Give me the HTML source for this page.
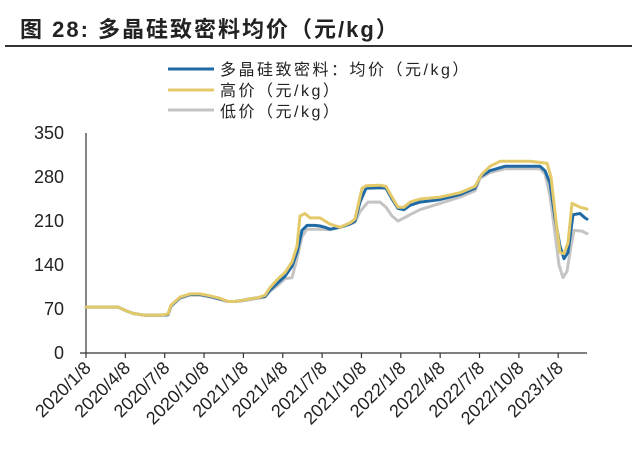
<!DOCTYPE html>
<html><head><meta charset="utf-8"><style>
body{margin:0;background:#fff;}
svg{display:block;font-family:"Liberation Sans","Noto Sans CJK SC",sans-serif;}
</style></head><body>
<svg id="s" width="640" height="454" viewBox="0 0 640 454">
<rect width="640" height="454" fill="#fff"/>
<text x="20" y="37" font-size="22" font-weight="bold" fill="#222" letter-spacing="2">图 28:  多晶硅致密料均价（元/kg）</text>
<line x1="5" y1="46" x2="632" y2="46" stroke="#333" stroke-width="2"/>
<line x1="168" y1="69" x2="214" y2="69" stroke="#1f6aa5" stroke-width="3"/>
<line x1="168" y1="90" x2="214" y2="90" stroke="#e4c96a" stroke-width="3"/>
<line x1="168" y1="110" x2="214" y2="110" stroke="#c4c4c4" stroke-width="3"/>
<g font-size="16" fill="#222" letter-spacing="2.5">
<text x="220" y="75">多晶硅致密料：均价（元/kg）</text>
<text x="220" y="96">高价（元/kg）</text>
<text x="220" y="117">低价（元/kg）</text>
</g>
<g id="ax" stroke="#333" stroke-width="1.2" fill="none"></g>
<g id="lbl" font-size="18" fill="#222"></g>
<g id="ser" fill="none" stroke-linejoin="round" stroke-linecap="round"></g>
</svg>
<script>
var NS="http://www.w3.org/2000/svg";
function el(p,t,a,txt){var e=document.createElementNS(NS,t);for(var k in a)e.setAttribute(k,a[k]);if(txt!==undefined)e.textContent=txt;document.getElementById(p).appendChild(e);return e;}
function Y(v){return 353-v*220/350;}
el("ax","line",{x1:86,y1:133,x2:86,y2:353});
el("ax","line",{x1:80,y1:353,x2:587,y2:353});
[0,70,140,210,280,350].forEach(function(v){el("lbl","text",{x:64,y:Y(v)+6,"text-anchor":"end"},String(v));});
var labs=["2020/1/8","2020/4/8","2020/7/8","2020/10/8","2021/1/8","2021/4/8","2021/7/8","2021/10/8","2022/1/8","2022/4/8","2022/7/8","2022/10/8","2023/1/8"];
labs.forEach(function(l,i){var x=86+i*39.35;el("ax","line",{x1:x,y1:353,x2:x,y2:358});
el("lbl","text",{x:x+6,y:369,"text-anchor":"end","font-size":"18",transform:"rotate(-45 "+(x+6)+" 369)"},l);});
var avg=[86,73,118,73,125,68,133,63,145,60,160,60,168,61,171,75,180,88,190,93,200,93,210,90,220,86,228,82,235,82,243,84,250,86,258,88,265,90,270,100,278,112,285,122,292,138,297,160,302,195,307,203,315,203,320,202,325,200,330,197,340,200,350,205,355,210,360,240,366,262,380,263,386,262,392,245,398,230,404,228,410,235,420,240,440,244,460,252,475,262,480,280,490,290,505,297,540,297,545,290,550,270,555,215,560,170,564,150,568,160,573,220,580,222,585,215,587,213];
var hi=[86,73,118,73,125,68,133,63,145,60,160,60,168,62,171,76,180,89,190,94,200,94,210,91,220,87,228,82,235,82,243,84,250,86,258,88,265,92,270,104,278,118,285,128,292,145,297,170,300,218,305,222,310,215,320,215,330,205,340,200,350,207,355,213,362,262,366,266,380,267,386,265,392,248,398,232,404,232,410,240,420,245,440,248,460,255,475,265,482,285,490,297,500,305,530,305,547,302,551,280,556,210,560,160,564,158,568,175,572,238,580,232,587,229];
var lo=[86,73,118,73,125,68,133,63,145,60,160,60,168,61,171,74,180,87,190,92,200,92,210,89,220,85,228,82,235,82,243,83,250,85,258,87,265,89,270,98,278,108,285,118,292,120,297,150,302,185,307,197,320,197,330,196,340,200,350,205,355,208,360,225,368,240,380,240,386,232,392,218,398,210,404,215,410,220,420,228,440,238,460,248,475,258,480,278,490,287,505,293,540,293,545,285,550,250,555,190,559,140,563,120,567,130,571,170,574,195,582,194,587,190];
function pts(a){var s="";for(var i=0;i<a.length;i+=2)s+=a[i]+","+Y(a[i+1]).toFixed(1)+" ";return s;}
el("ser","polyline",{points:pts(lo),stroke:"#c4c4c4","stroke-width":3});
el("ser","polyline",{points:pts(avg),stroke:"#1f6aa5","stroke-width":3});
el("ser","polyline",{points:pts(hi),stroke:"#e4c96a","stroke-width":3});
</script>
</body></html>
